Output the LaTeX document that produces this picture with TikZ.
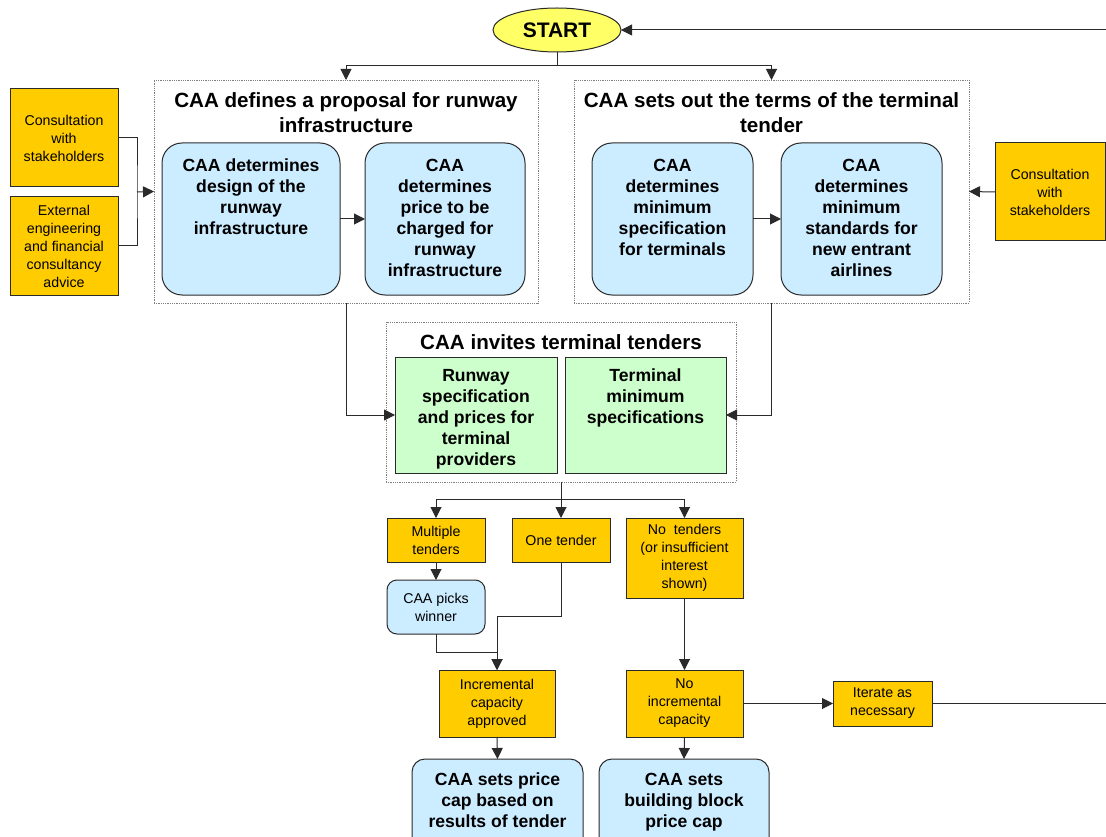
\documentclass[tikz,border=0pt]{standalone}
\usepackage{fontspec}
\setmainfont{Liberation Sans}
\usetikzlibrary{arrows.meta,shapes.geometric}
\definecolor{orng}{HTML}{FFCC00}
\definecolor{lblue}{HTML}{CCECFF}
\definecolor{lgreen}{HTML}{CCFFCC}
\definecolor{yel}{HTML}{FFFF66}
\definecolor{edgec}{HTML}{2A2A2A}
\begin{document}
\begin{tikzpicture}[x=1pt,y=-1pt,
 every node/.style={inner sep=0pt, outer sep=0pt},
 obox/.style={draw=edgec, fill=orng, line width=1pt, align=center, font=\fontsize{14.2}{18}\selectfont},
 bbox/.style={draw=edgec, fill=lblue, line width=1pt, rounded corners=20pt},
 gbox/.style={draw=edgec, fill=lgreen, line width=1pt},
 dbox/.style={draw=gray, densely dotted, line width=0.8pt},
 btext/.style={anchor=north, align=center, font=\bfseries\fontsize{17.6}{21}\selectfont},
 ttext/.style={anchor=north, align=center, font=\bfseries\fontsize{20.6}{25}\selectfont},
 arr/.style={draw=edgec, line width=1pt, -{Triangle[length=11pt,width=11pt]}},
 ln/.style={draw=edgec, line width=1pt},
]
\useasboundingbox (0,0) rectangle (1106,837);
\begin{scope}
\clip (0,0) rectangle (1106,837);

% START
\node[ellipse, draw=edgec, line width=1pt, fill=yel, minimum width=128pt, minimum height=44pt,
      font=\bfseries\fontsize{21}{24}\selectfont] (start) at (557,30) {START};

% left dotted group
\node[dbox, minimum width=384pt, minimum height=223pt] (boxL) at (346,191.5) {};
\node[ttext] (boxLt) at (346,93) {CAA defines a proposal for runway\\infrastructure};
\node[bbox, minimum width=178pt, minimum height=152pt] (L1) at (251,219) {};
\node[btext] (L1t) at (251,159) {CAA determines\\design of the\\runway\\infrastructure};
\node[bbox, minimum width=160pt, minimum height=152pt] (L2) at (445,219) {};
\node[btext] (L2t) at (445,159) {CAA\\determines\\price to be\\charged for\\runway\\infrastructure};

% right dotted group
\node[dbox, minimum width=395pt, minimum height=223pt] (boxR) at (771.5,191.5) {};
\node[ttext] (boxRt) at (771.5,93) {CAA sets out the terms of the terminal\\tender};
\node[bbox, minimum width=161pt, minimum height=152pt] (R1) at (672.5,219) {};
\node[btext] (R1t) at (672.5,159) {CAA\\determines\\minimum\\specification\\for terminals};
\node[bbox, minimum width=161pt, minimum height=152pt] (R2) at (861.5,219) {};
\node[btext] (R2t) at (861.5,159) {CAA\\determines\\minimum\\standards for\\new entrant\\airlines};

% side inputs
\node[obox, minimum width=108pt, minimum height=98pt] (O1) at (64,138) {Consultation\\with\\stakeholders};
\node[obox, minimum width=108pt, minimum height=98pt] (O2) at (64,246) {External\\engineering\\and financial\\consultancy\\advice};
\node[obox, minimum width=110pt, minimum height=98pt] (O3) at (1050,192) {Consultation\\with\\stakeholders};

% middle group
\node[dbox, minimum width=350pt, minimum height=160pt] (boxM) at (561,402) {};
\node[ttext] (boxMt) at (561,335) {CAA invites terminal tenders};
\node[gbox, minimum width=162pt, minimum height=116pt] (G1) at (476,415) {};
\node[btext] (G1t) at (476,369) {Runway\\specification\\and prices for\\terminal\\providers};
\node[gbox, minimum width=161pt, minimum height=116pt] (G2) at (645.5,415) {};
\node[btext] (G2t) at (645.5,369) {Terminal\\minimum\\specifications};

% outcomes
\node[obox, minimum width=98pt, minimum height=44pt] (multi) at (436,540) {Multiple\\tenders};
\node[obox, minimum width=98pt, minimum height=44pt] (onet) at (561,540) {One tender};
\node[obox, minimum width=117pt, minimum height=80pt] (nten) at (684.5,558) {No~ tenders\\(or insufficient\\interest\\shown)};
\node[draw=edgec, fill=lblue, line width=1pt, rounded corners=10pt, align=center,
      font=\fontsize{14.2}{18}\selectfont, minimum width=98pt, minimum height=54pt] (picks) at (436,607) {CAA picks\\winner};
\node[obox, minimum width=116pt, minimum height=67pt] (incr) at (497,703.5) {Incremental\\capacity\\approved};
\node[obox, minimum width=117pt, minimum height=67pt] (noinc) at (684.5,703.5) {No\\incremental\\capacity};
\node[obox, minimum width=99pt, minimum height=45pt] (iter) at (882.5,703.5) {Iterate as\\necessary};
\node[draw=edgec, fill=lblue, line width=1pt, rounded corners=13pt, minimum width=171pt, minimum height=100pt] (cap1) at (497.5,809) {};
\node[btext] (cap1t) at (497.5,773) {CAA sets price\\cap based on\\results of tender};
\node[draw=edgec, fill=lblue, line width=1pt, rounded corners=13pt, minimum width=170pt, minimum height=100pt] (cap2) at (684,809) {};
\node[btext] (cap2t) at (684,773) {CAA sets\\building block\\price cap};

% connectors
\draw[arr] (start.south) -- ++(0,14) -| (boxL.north);
\draw[arr] (start.south) -- ++(0,14) -| (boxR.north);
\coordinate (jn) at (137,192);
\draw[ln] (O1.east) -| (jn) |- (O2.east);
\draw[arr] (jn) -- (boxL.west);
\draw[arr] (O3.west) -- (boxR.east);
\draw[arr] (L1.east) -- (L2.west);
\draw[arr] (R1.east) -- (R2.west);
\draw[arr] (boxL.south) |- (G1.west);
\draw[arr] (boxR.south) |- (G2.east);
\draw[arr] (boxM.south) -- ++(0,17) -| (multi.north);
\draw[arr] (boxM.south) -- (onet.north);
\draw[arr] (boxM.south) -- ++(0,17) -| (nten.north);
\draw[arr] (multi.south) -- (picks.north);
\draw[arr] (picks.south) -- ++(0,18) -| (incr.north);
\draw[arr] (onet.south) -- ++(0,54) -| (incr.north);
\draw[arr] (nten.south) -- (noinc.north);
\draw[arr] (incr.south) -- (cap1.north);
\draw[arr] (noinc.south) -- (cap2.north);
\draw[arr] (noinc.east) -- (iter.west);
\coordinate (loopc) at (1120,703.5);
\draw[arr] (iter.east) -- (loopc) |- (start.east);
\end{scope}
\end{tikzpicture}
\end{document}
